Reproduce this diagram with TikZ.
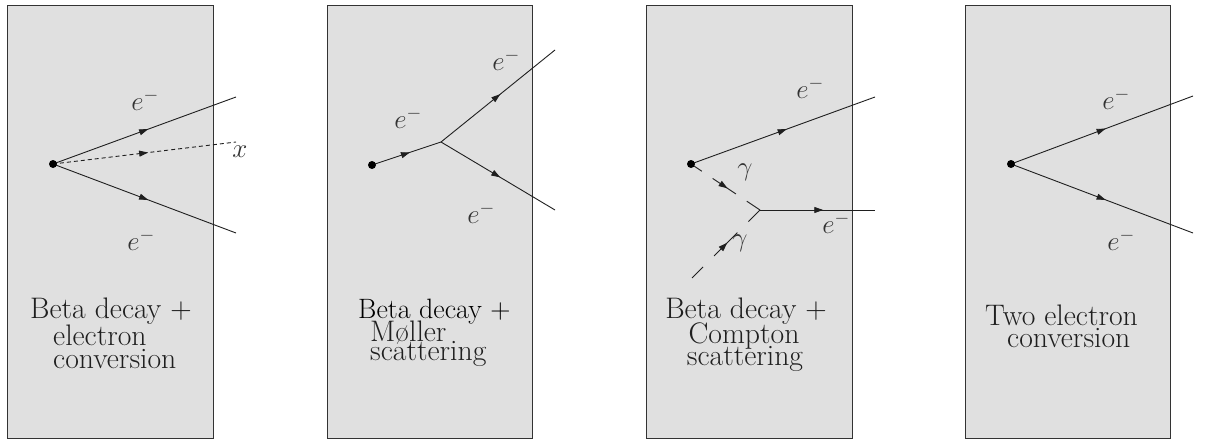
\RequirePackage{fix-cm}
\documentclass[tikz,border=0pt]{standalone}
\usepackage{fontspec}
\usetikzlibrary{arrows.meta,decorations.markings}
\definecolor{boxgray}{HTML}{E0E0E0}
\tikzset{
  panel/.style={fill=boxgray, draw=black!80, line width=0.9pt},
  ptext/.style={inner sep=0pt, text=black!88, font=\fontsize{29.7}{30}\selectfont},
  plabel/.style={inner sep=0pt, text=black!80, font=\fontsize{27}{30}\selectfont},
  fermion/.style={draw=black!88, line width=0.9pt, postaction={decorate},
    decoration={markings, mark=at position #1 with {\arrow{Triangle[length=9pt,width=6pt]}}}},
  fermion/.default=0.52,
  xline/.style={fermion=#1, dash pattern=on 4pt off 3pt},
  photon/.style={draw=black!88, line width=0.9pt, postaction={decorate},
    decoration={markings, mark=at position #1 with {\arrow{Triangle[length=9pt,width=6pt]}}}},
  vdot/.style={fill=black},
}
\begin{document}
\begin{tikzpicture}[x=1pt,y=-1pt]
\useasboundingbox (0,0) rectangle (1207,441);
% panels
\draw[panel] (7,5) rectangle (213,438);
\draw[panel] (327,5) rectangle (532,438);
\draw[panel] (646,5) rectangle (852,438);
\draw[panel] (965,5) rectangle (1170,438);

% ---------- panel 1 ----------
\coordinate (d1) at (53,164);
\coordinate (a1) at (236,97);
\coordinate (x1) at (236,142);
\coordinate (b1) at (236,233);
\draw[fermion=0.52] (d1) -- (a1);
\draw[xline=0.52] (d1) -- (x1);
\draw[fermion=0.52] (d1) -- (b1);
\fill[vdot] (d1) circle[radius=4pt];
\node[plabel] (l1a) at (145,100) {$e^-$};
\node[plabel] (l1x) at (240,152) {$x$};
\node[plabel] (l1b) at (141,240) {$e^-$};
\node[ptext, anchor=base west] (t1a) at (30,318) {Beta decay +};
\node[ptext, anchor=base west] (t1b) at (53,345) {electron};
\node[ptext, anchor=base west] (t1c) at (53,368) {conversion};

% ---------- panel 2 ----------
\coordinate (d2) at (372,165);
\coordinate (v2) at (441,142);
\coordinate (a2) at (555,50);
\coordinate (b2) at (555,210);
\draw[fermion=0.55] (d2) -- (v2);
\draw[fermion=0.52] (v2) -- (a2);
\draw[fermion=0.52] (v2) -- (b2);
\fill[vdot] (d2) circle[radius=4pt];
\node[plabel] (l2a) at (408,118) {$e^-$};
\node[plabel] (l2b) at (506,60) {$e^-$};
\node[plabel] (l2c) at (481,213) {$e^-$};
\node[ptext, anchor=base west, font=\fontsize{28}{30}\selectfont, text=black] (t2a) at (358,318) {Beta decay +};
\node[ptext, anchor=base west] (t2b) at (370,341) {Møller};
\node[ptext, anchor=base west] (t2c) at (370,360) {scattering};

% ---------- panel 3 ----------
\coordinate (d3) at (691,164);
\coordinate (a3) at (875,97);
\coordinate (v3) at (760,210);
\coordinate (e3) at (875,210);
\coordinate (g3) at (692,278);
\draw[fermion=0.52] (d3) -- (a3);
\draw[photon=0.53, dash pattern=on 28pt off 13pt, dash phase=15pt] (d3) -- (v3);
\draw[photon=0.52, dash pattern=on 33pt off 15.6pt, dash phase=17.4pt] (g3) -- (v3);
\draw[fermion=0.55] (v3) -- (e3);
\fill[vdot] (d3) circle[radius=4pt];
\node[plabel] (l3a) at (810,88) {$e^-$};
\node[plabel] (l3g) at (745,172) {$\gamma$};
\node[plabel] (l3h) at (740,243) {$\gamma$};
\node[plabel] (l3b) at (836,223) {$e^-$};
\node[ptext, anchor=base] (t3a) at (746,318) {Beta decay +};
\node[ptext, anchor=base] (t3b) at (744,343) {Compton};
\node[ptext, anchor=base] (t3c) at (745,365) {scattering};

% ---------- panel 4 ----------
\coordinate (d4) at (1011,164);
\coordinate (a4) at (1193,96);
\coordinate (b4) at (1193,233);
\draw[fermion=0.52] (d4) -- (a4);
\draw[fermion=0.52] (d4) -- (b4);
\fill[vdot] (d4) circle[radius=4pt];
\node[plabel] (l4a) at (1116,99) {$e^-$};
\node[plabel] (l4b) at (1121,240) {$e^-$};
\node[ptext, anchor=base west] (t4a) at (985,325) {Two electron};
\node[ptext, anchor=base west] (t4b) at (1007,347) {conversion};
\end{tikzpicture}
\end{document}
